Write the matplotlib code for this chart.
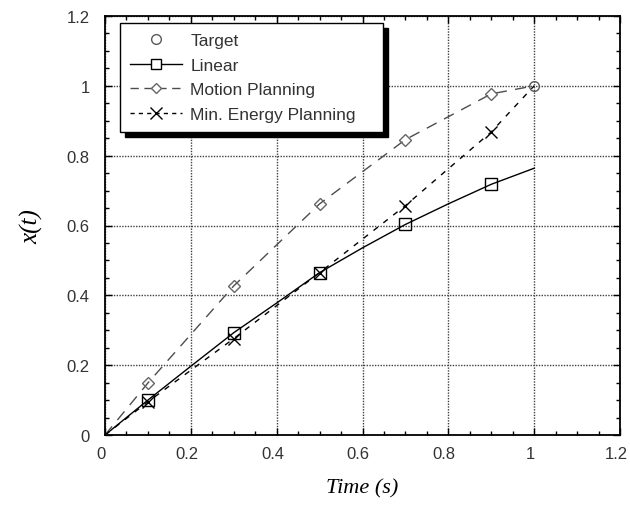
import matplotlib
matplotlib.use("Agg")
import matplotlib.pyplot as plt
from matplotlib.ticker import MultipleLocator, FormatStrFormatter
from matplotlib.transforms import ScaledTranslation

# data
t_target = [1.0]
x_target = [1.0]

t_lin = [0.0, 0.1, 0.2, 0.3, 0.4, 0.5, 0.6, 0.7, 0.8, 0.9, 1.0]
x_lin = [0.0, 0.10, 0.197, 0.293, 0.378, 0.465, 0.536, 0.603, 0.662, 0.718, 0.764]
t_lin_mk = [0.1, 0.3, 0.5, 0.7, 0.9]
x_lin_mk = [0.10, 0.293, 0.465, 0.603, 0.718]

t_mot = [0.0, 0.1, 0.3, 0.5, 0.7, 0.9, 1.0]
x_mot = [0.0, 0.149, 0.427, 0.662, 0.846, 0.977, 1.0]
t_mot_mk = [0.1, 0.3, 0.5, 0.7, 0.9]
x_mot_mk = [0.149, 0.427, 0.662, 0.846, 0.977]

t_me = [0.0, 0.1, 0.3, 0.5, 0.7, 0.9, 1.0]
x_me = [0.0, 0.095, 0.276, 0.465, 0.657, 0.868, 1.0]
t_me_mk = [0.1, 0.3, 0.5, 0.7, 0.9]
x_me_mk = [0.095, 0.276, 0.465, 0.657, 0.868]

fig = plt.figure(figsize=(6.3, 5.1), dpi=100)
ax = fig.add_axes([105/630, 1-436/510, 515/630, 419/510])

# curves
ax.plot(t_lin, x_lin, color='black', lw=1.0, ls='-')
ax.plot(t_mot, x_mot, color='0.3', lw=1.0, ls=(0, (8, 6)))
ax.plot(t_me, x_me, color='black', lw=1.0, ls=(0, (4, 5)))

# markers
ax.plot(t_lin_mk, x_lin_mk, ls='none', marker='s', ms=8, mfc='none', mec='black', mew=1.0)
ax.plot(t_mot_mk, x_mot_mk, ls='none', marker='D', ms=6, mfc='none', mec='0.4', mew=1.0)
ax.plot(t_me_mk, x_me_mk, ls='none', marker='x', ms=8, color='black', mew=1.0)
ax.plot(t_target, x_target, ls='none', marker='o', ms=7, mfc='none', mec='0.35', mew=1.0)

# legend proxies
h_t, = ax.plot([], [], ls='none', marker='o', ms=7, mfc='none', mec='0.35', mew=1.0, label='Target')
h_l, = ax.plot([], [], ls='-', color='black', lw=1.0, marker='s', ms=7, mfc='white', mec='black', label='Linear')
h_m, = ax.plot([], [], ls=(0, (6, 4)), color='0.3', lw=1.0, marker='D', ms=5, mfc='white', mec='0.4', label='Motion Planning')
h_e, = ax.plot([], [], ls=(0, (3, 3)), color='black', lw=1.0, marker='x', ms=8, label='Min. Energy Planning')

leg = ax.legend(handles=[h_t, h_l, h_m, h_e], loc='upper left',
                bbox_to_anchor=(15/515, 1-7/419, 263/515, 0), mode='expand',
                prop={'family': 'Liberation Sans', 'size': 12.5}, frameon=True, fancybox=False,
                shadow={'color': 'black', 'alpha': 1.0, 'ox': 3.5, 'oy': -3.5},
                borderpad=0.55, labelspacing=0.56, handlelength=3.0, handletextpad=0.5,
                borderaxespad=0)
leg.get_frame().set_edgecolor('black')
leg.get_frame().set_linewidth(1.0)
for txt in leg.get_texts():
    txt.set_color('#333333')

ax.set_xlim(0, 1.2)
ax.set_ylim(0, 1.2)
ax.xaxis.set_major_locator(MultipleLocator(0.2))
ax.yaxis.set_major_locator(MultipleLocator(0.2))
ax.xaxis.set_minor_locator(MultipleLocator(0.05))
ax.yaxis.set_minor_locator(MultipleLocator(0.05))
ax.xaxis.set_major_formatter(FormatStrFormatter('%g'))
ax.yaxis.set_major_formatter(FormatStrFormatter('%g'))
ax.tick_params(which='both', direction='in', top=True, right=True, colors='black',
               labelcolor='#333333', labelsize=12)
ax.tick_params(axis='x', pad=8)
ax.tick_params(axis='y', pad=11)
ax.tick_params(which='major', length=5, width=1)
ax.tick_params(which='minor', length=3, width=1)
# x tick labels sit a touch left of their ticks
shift = ScaledTranslation(-3/72, 0, fig.dpi_scale_trans)
for tick in ax.xaxis.get_major_ticks():
    tick.label1.set_transform(tick.label1.get_transform() + shift)
for lab in ax.get_xticklabels() + ax.get_yticklabels():
    lab.set_family('Liberation Sans')

ax.grid(True, which='major', color='0.25', ls=(0, (1, 1)), lw=1.0)
ax.set_axisbelow(True)
for sp in ax.spines.values():
    sp.set_linewidth(1.3)

ax.set_xlabel('Time (s)', family='Liberation Serif', style='italic', size=16, labelpad=12)
ax.set_ylabel('x(t)', family='Liberation Serif', style='italic', size=18, labelpad=17)

fig.savefig('out.png', dpi=100)
